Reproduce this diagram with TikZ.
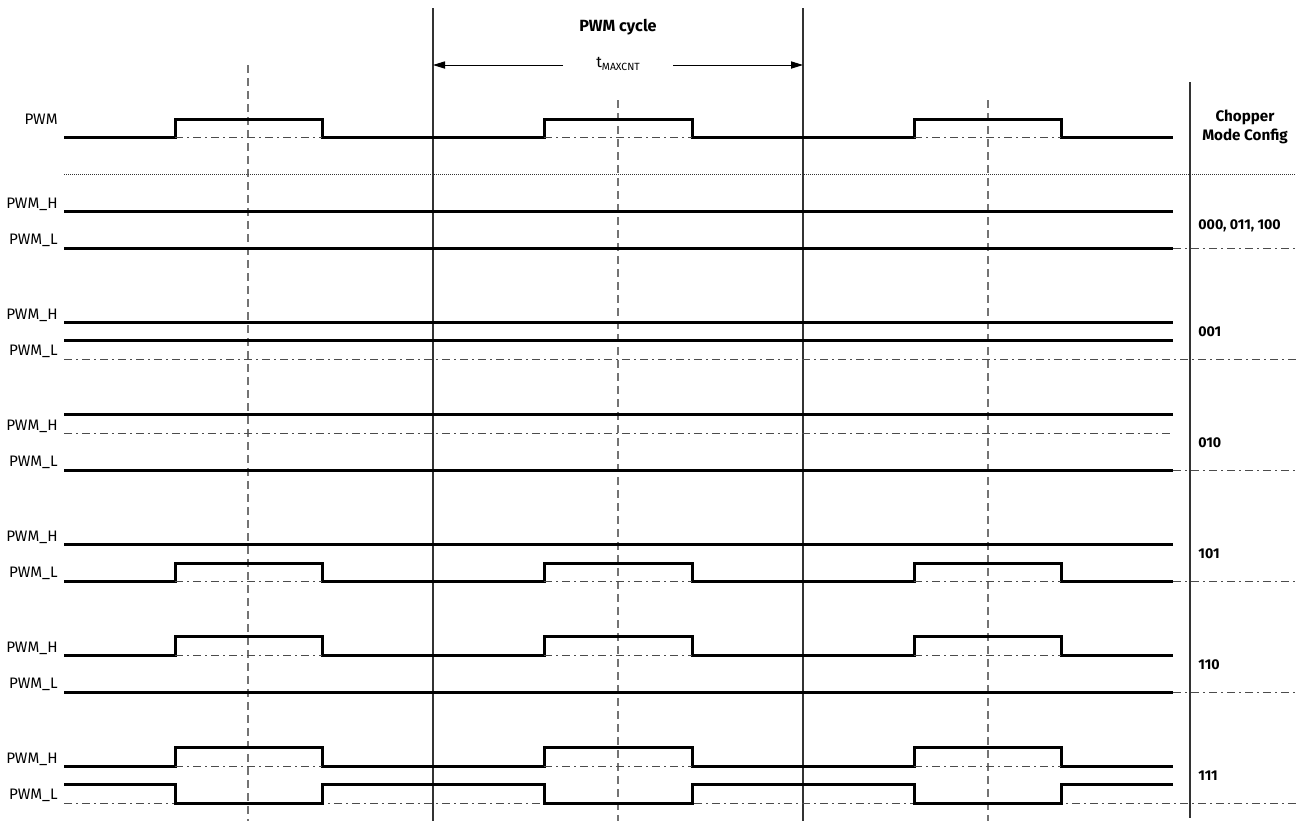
\documentclass[tikz,border=0pt]{standalone}
\usepackage{fontspec}
\setmainfont{Fira Sans}
\usetikzlibrary{arrows.meta}
\newcommand\pwave[2]{%
  \draw[wave] (64,#1) -| (175,#2) -| (322,#1) -| (544,#2) -| (692,#1) -| (914,#2) -| (1061,#1) -- (1173,#1);
  \foreach \pa/\pb in {175/322,544/692,914/1061} \draw[dd] (\pa,#1) -- (\pb,#1);}
\begin{document}
\begin{tikzpicture}[x=0.5pt,y=-0.5pt,
  wave/.style={line width=1.5pt, line join=miter, black},
  frame/.style={line width=0.6pt, black!80},
  cdash/.style={line width=0.65pt, black!55, dash pattern=on 4pt off 2.5pt},
  dd/.style={line width=0.5pt, black!70, dash pattern=on 4pt off 2pt on 1pt off 2pt},
  dotl/.style={line width=0.5pt, black!80, dash pattern=on 0.5pt off 0.5pt},
  arr/.style={line width=0.5pt, black, -{Triangle[length=6pt,width=3.6pt]}},
  sig/.style={font=\fontsize{7.6}{9}\selectfont, anchor=base east, inner sep=0pt},
  cfg/.style={font=\bfseries\fontsize{7.1}{8}\selectfont, anchor=base west, inner sep=0pt},
]
\useasboundingbox (0,0) rectangle (1301,821);
\fill[white] (0,0) rectangle (1301,821);
% vertical frame lines
\coordinate (v1t) at (433,8);   \coordinate (v1b) at (433,821);
\coordinate (v2t) at (803,8);   \coordinate (v2b) at (803,821);
\coordinate (v3t) at (1190,82); \coordinate (v3b) at (1190,818);
\draw[frame] (v1t) -- (v1b);
\draw[frame] (v2t) -- (v2b);
\draw[frame] (v3t) -- (v3b);
% centre dashed lines
\coordinate (c1t) at (248,65);  \coordinate (c1b) at (248,821);
\coordinate (c2t) at (618,100); \coordinate (c2b) at (618,821);
\coordinate (c3t) at (988,100); \coordinate (c3b) at (988,821);
\draw[cdash] (c1t) -- (c1b);
\draw[cdash] (c2t) -- (c2b);
\draw[cdash] (c3t) -- (c3b);
% title and period arrow
\node[font=\bfseries\fontsize{8.1}{10}\selectfont, inner sep=0pt] (title) at (618,27) {PWM cycle};
\node[inner sep=0pt, font=\fontsize{7.8}{9}\selectfont] (tm) at (618,64) {t\raisebox{-1.2pt}{\fontsize{5.2}{6}\selectfont MAXCNT}};
\coordinate (al) at (563,65); \coordinate (ar) at (673,65);
\coordinate (a0) at (433,65); \coordinate (a1) at (803,65);
\draw[arr] (al) -- (a0);
\draw[arr] (ar) -- (a1);
% header
\node[font=\bfseries\fontsize{7.6}{9.5}\selectfont, align=center, inner sep=0pt] (chop) at (1245,127) {Chopper\\Mode Config};
\node[sig] (lpwm) at (58,124) {PWM};
\pwave{137}{119}
\draw[dotl] (64,174) -- (1296,174);
% 000, 011, 100
\node[sig] (h1) at (58,208) {PWM\_H};
\node[sig] (l1) at (58,244) {PWM\_L};
\draw[wave] (64,211) -- (1173,211);
\draw[wave] (64,248) -- (1173,248);
\draw[dd] (1173,248) -- (1296,248);
\node[cfg] (m1) at (1198,229) {000, 011, 100};
% 001
\node[sig] (h2) at (58,319) {PWM\_H};
\node[sig] (l2) at (58,355) {PWM\_L};
\draw[wave] (64,322) -- (1173,322);
\draw[wave] (64,340) -- (1173,340);
\draw[dd] (64,359) -- (1296,359);
\node[cfg] (m2) at (1198,336) {001};
% 010
\node[sig] (h3) at (58,430) {PWM\_H};
\node[sig] (l3) at (58,466) {PWM\_L};
\draw[wave] (64,414) -- (1173,414);
\draw[dd] (64,433) -- (1173,433);
\draw[wave] (64,470) -- (1173,470);
\draw[dd] (1173,470) -- (1296,470);
\node[cfg] (m3) at (1198,447) {010};
% 101
\node[sig] (h4) at (58,541) {PWM\_H};
\node[sig] (l4) at (58,577) {PWM\_L};
\draw[wave] (64,544) -- (1173,544);
\pwave{581}{563}
\draw[dd] (1173,581) -- (1296,581);
\node[cfg] (m4) at (1198,558) {101};
% 110
\node[sig] (h5) at (58,652) {PWM\_H};
\node[sig] (l5) at (58,688) {PWM\_L};
\pwave{655}{636}
\draw[wave] (64,692) -- (1173,692);
\draw[dd] (1173,692) -- (1296,692);
\node[cfg] (m5) at (1198,669) {110};
% 111
\node[sig] (h6) at (58,763) {PWM\_H};
\node[sig] (l6) at (58,799) {PWM\_L};
\pwave{766}{747}
\draw[dd] (64,803) -- (1296,803);
\draw[wave] (64,784) -| (175,803) -| (322,784) -| (544,803) -| (692,784) -| (914,803) -| (1061,784) -- (1173,784);
\node[cfg] (m6) at (1198,780) {111};
\end{tikzpicture}
\end{document}
